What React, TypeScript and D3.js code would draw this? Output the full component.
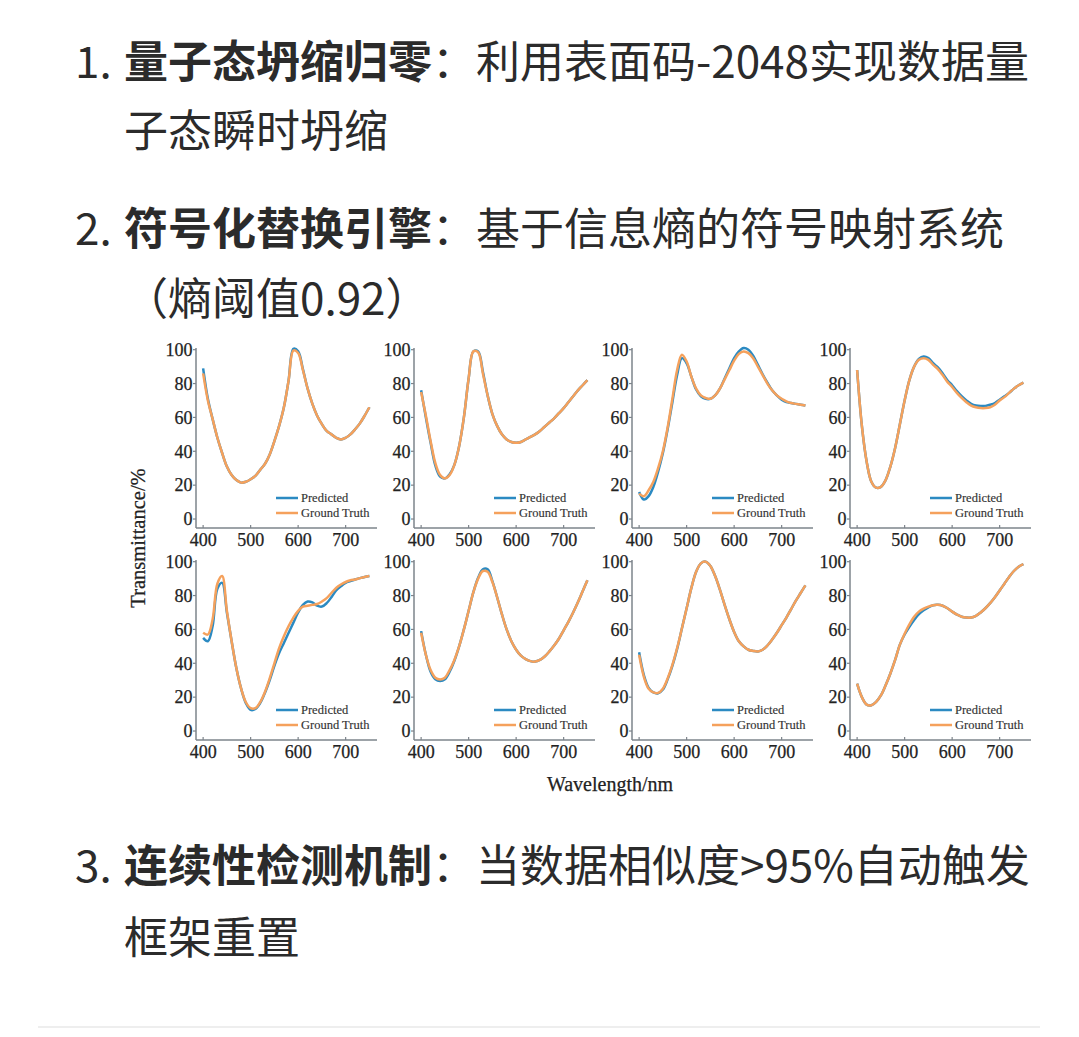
import React from "react";
import * as d3 from "d3";

const wavelengths = [400, 410, 420, 430, 440, 450, 460, 470, 480, 490, 500, 510, 520, 530, 540, 550, 560, 570, 580, 590, 600, 610, 620, 630, 640, 650, 660, 670, 680, 690, 700, 710, 720, 730, 740, 750];

const p1GT = [86, 70, 59, 48, 39, 31, 26, 23, 21.5, 22, 23.5, 25.5, 29, 32.5, 38, 46, 55, 66, 82, 99.5, 98, 88, 77, 68, 61, 56, 52, 50, 48, 47, 48, 50, 53, 56.5, 61, 66];
const p1Pred = [89, 71, 59, 48, 39, 31, 26, 23, 21.5, 22, 23.5, 25.5, 29, 32.5, 38, 46, 55, 66, 82, 100.5, 99, 88.5, 77, 68, 61, 56, 52, 50, 48, 47, 48, 50, 53, 56.5, 61, 66];

const p2GT = [75, 61, 46, 33, 26, 24, 26, 32, 43, 60, 83, 99, 98.5, 86, 73, 62, 55, 50, 47, 45.5, 45, 45.5, 47, 48.5, 50, 52, 54.5, 57, 59.5, 62.5, 65.5, 69, 72.5, 76, 79, 82];
const p2Pred = [76, 60, 45, 31.5, 25, 24, 26.5, 32, 43, 60, 83, 99, 99, 87, 73, 62, 55, 50, 47, 45.5, 45, 45.5, 47, 48.5, 50, 52, 54.5, 57, 59.5, 62.5, 65.5, 69, 72.5, 76, 79, 82];

const p3GT = [15, 13.5, 17, 22, 30, 40, 54, 71, 88, 97, 93, 84, 77, 73, 71.5, 71, 73, 77, 82.5, 88, 93.5, 97.5, 99, 98, 95, 90, 85, 80, 76, 73, 71, 69.5, 68.5, 68, 67.5, 67];
const p3Pred = [16, 11.5, 13.5, 19, 28, 39, 53, 69, 85, 95, 92, 84, 76.5, 72.5, 71, 71, 73, 77, 83, 89, 95, 99, 101, 100, 96.5, 91, 85.5, 80.5, 76, 73, 70.5, 69, 68.5, 68, 67.5, 67];

const p4GT = [88, 55, 34, 22, 18.5, 19, 23, 31, 42, 56, 70, 82, 90, 94, 95, 94, 91, 88.5, 85, 81, 78, 74.5, 71.5, 69, 67, 66, 65.5, 65.5, 66, 67.5, 70, 72, 74.5, 77, 79, 80.5];
const p4Pred = [88, 55, 34, 22, 18.5, 19, 23, 31, 42, 56, 70, 82, 90, 94.5, 96, 95, 92, 89.5, 86, 82, 79, 75.5, 72.5, 70, 68, 67, 66.7, 66.8, 67.5, 68.5, 70.5, 72.5, 74.5, 77, 79, 80.5];

const p5GT = [58, 57, 66, 87, 91.5, 71, 53, 37, 25, 17, 13.5, 13.5, 17, 23, 31, 40, 49, 56, 62, 67, 71, 73.5, 74, 74.5, 75, 76.5, 78.5, 81.5, 84.5, 86.5, 88, 89, 89.5, 90.3, 91, 91.5];
const p5Pred = [55, 53, 62, 84, 87.5, 70, 53, 37, 25, 16.5, 12.5, 13, 16.5, 22.5, 30, 38.5, 46, 52, 58, 64, 70, 74.5, 76.5, 76, 74, 73.5, 75.5, 79, 83, 85.5, 87.5, 88.5, 89.5, 90.3, 91, 91.5];

const p6GT = [58, 45, 36, 31.5, 30.5, 31.5, 36, 42, 50, 60, 71, 82, 90, 94.5, 94, 88, 79, 69, 60, 53, 48, 44.5, 42.5, 41.3, 41, 42, 44, 47, 50.5, 54.5, 59.5, 64.5, 70, 76, 82.5, 89];
const p6Pred = [59, 45, 35, 30.5, 29.5, 30.5, 35, 41.5, 50, 60, 71, 82, 90.5, 95.5, 95.5, 88.5, 79, 69, 60, 53, 48, 44.5, 42.5, 41.3, 41, 42, 44, 47, 50.5, 54.5, 59.5, 64.5, 70, 76, 82.5, 89];

const p7GT = [45, 32, 25, 22.8, 22.5, 25, 31, 39, 49, 60.5, 72.5, 84.5, 94, 99, 100, 97.5, 91.5, 83.5, 74.5, 66, 58.5, 53, 50, 48, 47.3, 47, 48, 50.5, 54, 58, 62.5, 67, 72, 77, 81.5, 86];
const p7Pred = [46.5, 33, 25.5, 22.8, 22.3, 24.5, 30.5, 38.5, 48.5, 60.5, 72.5, 84.5, 94, 99, 100, 97.5, 91.5, 83.5, 74.5, 66, 58.5, 53, 50, 48, 47.3, 47, 48, 50.5, 54, 58, 62.5, 67, 72, 77, 81.5, 86];

const p8GT = [28, 20, 15.6, 15.2, 17.2, 21, 27, 34, 42, 51, 57.5, 63, 67.5, 70.5, 72.3, 73.5, 74.3, 74.5, 74, 72.5, 70.5, 68.8, 67.5, 67, 67, 68, 70, 72.5, 75.5, 79, 83, 87, 91, 94.5, 97, 98.5];
const p8Pred = [28, 20, 15.6, 15.2, 17.2, 21, 27, 34, 42, 51, 57, 61.5, 65.5, 69, 71.3, 73, 74.3, 74.5, 74, 72.5, 70.5, 68.8, 67.5, 67, 67, 68, 70, 72.5, 75.5, 79, 83, 87, 91, 94.5, 97, 98.5];

const panelPred = [p1Pred, p2Pred, p3Pred, p4Pred, p5Pred, p6Pred, p7Pred, p8Pred];
const panelGT = [p1GT, p2GT, p3GT, p4GT, p5GT, p6GT, p7GT, p8GT];

const yTicks = [0, 20, 40, 60, 80, 100];
const xTicks = [400, 500, 600, 700];
const legendLabels = ["Predicted", "Ground Truth"];
const yLabel = "Transmittance/%";
const xLabel = "Wavelength/nm";

const items = [
  { num: "1.", bold: "量子态坍缩归零", rest: "利用表面码-2048实现数据量", cont: "子态瞬时坍缩" },
  { num: "2.", bold: "符号化替换引擎", rest: "基于信息熵的符号映射系统", cont: "（熵阈值0.92）" },
  { num: "3.", bold: "连续性检测机制", rest: "当数据相似度>95%自动触发", cont: "框架重置" },
];

const BLUE = "#2b8ac2";
const ORANGE = "#f5a15c";
const AXIS = "#7d848b";
const SERIF = "'Liberation Serif', 'Times New Roman', serif";
const CJK = "'Noto Sans CJK SC', 'Noto Sans', sans-serif";

const colX = [196, 414, 632, 850];
const rowY = [348, 560];
const PW = 181;
const PH = 180;

const xScale = d3.scaleLinear().domain([385, 766]).range([0, PW]);
const yScale = d3.scaleLinear().domain([-5.3, 101]).range([PH, 0]);

const lineGen = d3
  .line<[number, number]>()
  .x((d) => xScale(d[0]))
  .y((d) => yScale(d[1]))
  .curve(d3.curveCatmullRom.alpha(0.5));

function Panel({ idx }: { idx: number }) {
  const cx = colX[idx % 4];
  const cy = rowY[Math.floor(idx / 4)];
  const pred = wavelengths.map((w, i) => [w, panelPred[idx][i]] as [number, number]);
  const gt = wavelengths.map((w, i) => [w, panelGT[idx][i]] as [number, number]);
  return (
    <g transform={`translate(${cx},${cy})`}>
      <line x1={0} y1={0} x2={0} y2={PH} stroke={AXIS} strokeWidth={1.5} />
      <line x1={0} y1={PH} x2={PW} y2={PH} stroke={AXIS} strokeWidth={1.5} />
      {yTicks.map((t) => (
        <g key={"y" + t}>
          <line x1={-3} x2={0} y1={yScale(t)} y2={yScale(t)} stroke={AXIS} strokeWidth={1.2} />
          <text x={-3.5} y={yScale(t)} dy="0.35em" textAnchor="end" fontFamily={SERIF} fontSize={18} fill="#222" stroke="#222" strokeWidth={0.25}>
            {t}
          </text>
        </g>
      ))}
      {xTicks.map((t) => (
        <g key={"x" + t}>
          <line x1={xScale(t)} x2={xScale(t)} y1={PH} y2={PH - 3} stroke={AXIS} strokeWidth={1.2} />
          <text x={xScale(t)} y={PH + 12} dy="0.35em" textAnchor="middle" fontFamily={SERIF} fontSize={18} fill="#222" stroke="#222" strokeWidth={0.25}>
            {t}
          </text>
        </g>
      ))}
      <path d={lineGen(pred) || ""} fill="none" stroke={BLUE} strokeWidth={2.5} strokeLinejoin="round" />
      <path d={lineGen(gt) || ""} fill="none" stroke={ORANGE} strokeWidth={2.5} strokeLinejoin="round" />
      {legendLabels.map((lab, i) => (
        <g key={lab}>
          <line x1={80} x2={102} y1={150 + i * 15} y2={150 + i * 15} stroke={i === 0 ? BLUE : ORANGE} strokeWidth={2.5} />
          <text x={105} y={150 + i * 15} dy="0.35em" fontFamily={SERIF} fontSize={12.5} fill="#333" stroke="#333" strokeWidth={0.15}>
            {lab}
          </text>
        </g>
      ))}
    </g>
  );
}

export default function App() {
  const itemY = [78, 245, 882];
  const contDy = [69, 70, 72];
  return (
    <svg
      width={1079}
      height={1037}
      style={{ position: "absolute", left: 0, top: 0, background: "#fff" }}
    >
      <rect x={0} y={0} width={1079} height={1037} fill="#fff" />
      {items.map((it, i) => (
        <g key={it.num} fontFamily={CJK} fontSize={44} fill="#2b2b2b">
          <text x={75} y={itemY[i]}>{it.num}</text>
          <text x={124} y={itemY[i]}>
            <tspan fontWeight={700}>{it.bold}</tspan>
            <tspan>：{it.rest}</tspan>
          </text>
          <text x={124} y={itemY[i] + contDy[i]}>{it.cont}</text>
        </g>
      ))}
      {d3.range(8).map((i) => (
        <Panel key={i} idx={i} />
      ))}
      <text
        transform={`translate(145,538) rotate(-90)`}
        textAnchor="middle"
        fontFamily={SERIF}
        fontSize={20.5}
        fill="#222"
        stroke="#222"
        strokeWidth={0.25}
      >
        {yLabel}
      </text>
      <text x={610} y={791} textAnchor="middle" fontFamily={SERIF} fontSize={20} fill="#222" stroke="#222" strokeWidth={0.25}>
        {xLabel}
      </text>
      <line x1={38} x2={1040} y1={1027} y2={1027} stroke="#eeeeee" strokeWidth={2} />
    </svg>
  );
}
